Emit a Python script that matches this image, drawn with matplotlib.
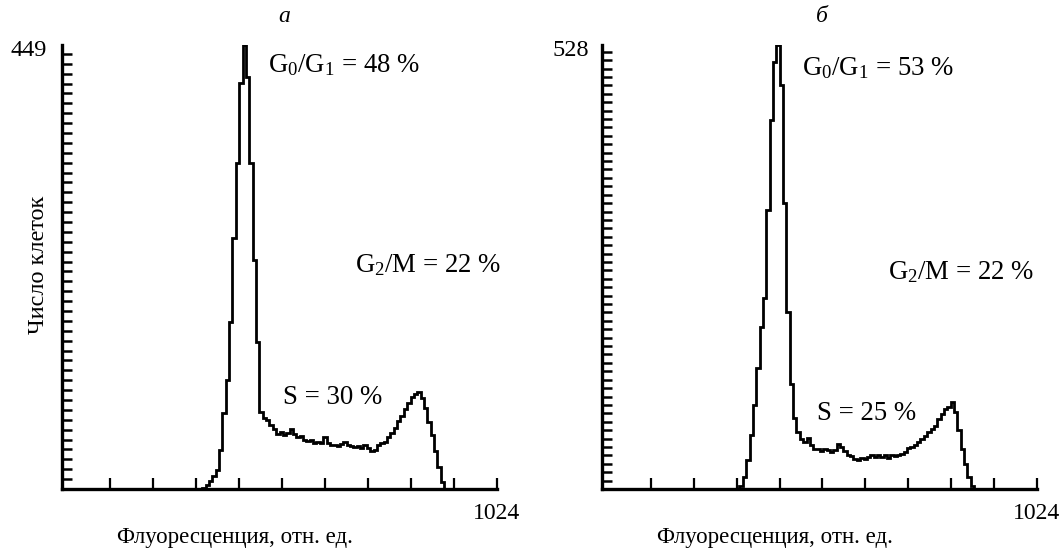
import numpy as np
import matplotlib
matplotlib.use("Agg")
import matplotlib.pyplot as plt

plt.rcParams['font.family'] = ['Liberation Serif', 'DejaVu Serif']
plt.rcParams['mathtext.fontset'] = 'custom'
plt.rcParams['mathtext.rm'] = 'Liberation Serif'
plt.rcParams['mathtext.it'] = 'Liberation Serif:italic'

# histogram data, 8-channel bins (channel of first bin, counts)
left_start = 322
left_counts = [1, 4, 8, 13, 19, 39, 77, 110, 169, 254, 330, 411, 449, 417, 330, 232, 149, 78,
               72, 70, 65, 61, 56, 58, 55, 57, 61, 56, 53, 54, 50, 49, 50, 47, 48, 47, 53, 47,
               44, 45, 43, 46, 48, 44, 43, 42, 43, 41, 45, 41, 38, 39, 45, 47, 48, 53, 57, 62,
               69, 74, 81, 87, 93, 96, 98, 92, 82, 68, 55, 38, 22, 7]
right_start = 314
right_counts = [3, 14, 35, 64, 100, 144, 193, 227, 332, 439, 508, 528, 480, 340, 210, 125, 85, 68,
                60, 56, 61, 52, 48, 47, 45, 48, 46, 44, 46, 54, 50, 45, 41, 39, 36, 35, 37, 36,
                38, 40, 38, 41, 38, 40, 37, 40, 39, 41, 42, 44, 49, 50, 52, 56, 59, 63, 68, 71,
                75, 83, 89, 95, 98, 103, 92, 70, 47, 30, 14, 3]
bin_width = 8

panel_letters = ['а', 'б']
y_max = [449, 528]
x_max = 1024
phase_labels = [
    [r'G$_0$/G$_1$ = 48 %', r'G$_2$/M = 22 %', 'S = 30 %'],
    [r'G$_0$/G$_1$ = 53 %', r'G$_2$/M = 22 %', 'S = 25 %'],
]
xlabel = 'Флуоресценция, отн. ед.'
ylabel = 'Число клеток'

W, H = 1064, 551
fig = plt.figure(figsize=(W / 100, H / 100), dpi=100)


def fx(px):
    return px / W


def fy(py):
    return 1 - py / H


panels = [
    dict(start=left_start, counts=left_counts, x0=62, xmin=-12,
         letter=(284, 16), ytl=(47, 50),
         labels=[(268, 65), (355, 265), (283, 398)], xl=(235, 537)),
    dict(start=right_start, counts=right_counts, x0=602, xmin=-14,
         letter=(822, 16), ytl=(589, 50),
         labels=[(802, 68), (888, 272), (817, 413)], xl=(775, 537)),
]

for k, p in enumerate(panels):
    ax = fig.add_axes([fx(p['x0']), fy(489), 435 / W, 444 / H])
    edges = p['start'] + bin_width * np.arange(len(p['counts']) + 1)
    ax.stairs(p['counts'], edges, baseline=0, color='black', lw=2.0)
    ax.set_xlim(p['xmin'], x_max)
    ax.set_ylim(0, y_max[k])

    for s in ['top', 'right']:
        ax.spines[s].set_visible(False)
    for s in ['left', 'bottom']:
        ax.spines[s].set_linewidth(2.4)

    xt = np.arange(1, 11) * 102.4
    ax.set_xticks(xt, [''] * 9 + ['1024'])
    yt = np.arange(0, y_max[k], 10)
    ax.set_yticks(yt, [''] * len(yt))
    ax.tick_params(axis='x', direction='in', length=8, width=1.6, pad=10, labelsize=17)
    ax.tick_params(axis='y', direction='in', length=7.5, width=1.8)

    fig.text(fx(p['ytl'][0]), fy(p['ytl'][1]), str(y_max[k]), fontsize=17.5,
             ha='right', va='center')
    fig.text(fx(p['letter'][0]), fy(p['letter'][1]), panel_letters[k], fontsize=17,
             style='italic', ha='center', va='center')
    for lab, (lx, ly) in zip(phase_labels[k], p['labels']):
        fig.text(fx(lx), fy(ly), lab, fontsize=19.3, ha='left', va='center')
    fig.text(fx(p['xl'][0]), fy(p['xl'][1]), xlabel, fontsize=16.5, ha='center', va='center')

fig.text(fx(38), fy(265), ylabel, fontsize=17.5, rotation=90, ha='center', va='center')

fig.savefig('out.png', dpi=100)
